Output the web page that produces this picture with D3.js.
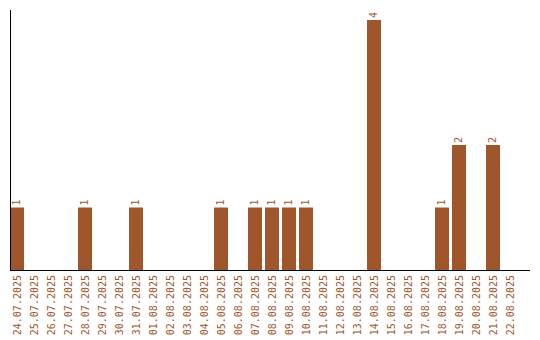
<!DOCTYPE html>
<html>
<head>
<meta charset="utf-8">
<script src="https://cdn.jsdelivr.net/npm/d3@7"></script>
<style>
  body { margin: 0; background: #fff; }
  text { font-family: "DejaVu Sans Mono", monospace; }
</style>
</head>
<body>
<div id="chart-area"></div>
<script>
    var days = ["24.07.2025","25.07.2025","26.07.2025","27.07.2025","28.07.2025","29.07.2025",
      "30.07.2025","31.07.2025","01.08.2025","02.08.2025","03.08.2025","04.08.2025",
      "05.08.2025","06.08.2025","07.08.2025","08.08.2025","09.08.2025","10.08.2025",
      "11.08.2025","12.08.2025","13.08.2025","14.08.2025","15.08.2025","16.08.2025",
      "17.08.2025","18.08.2025","19.08.2025","20.08.2025","21.08.2025","22.08.2025"];
    var counts = [1,0,0,0,1,0,0,1,0,0,0,0,1,0,1,1,1,1,0,0,0,4,0,0,0,1,2,0,2,0];

    var color = "#a0562b";
    var margin = { left:10, top:10, bottom:70 };
    var width = 540, height = 340;

    var svg = d3.select("#chart-area")
      .append("svg")
        .attr("width", width)
        .attr("height", height);

    var x = d3.scaleBand()
      .domain(days)
      .range([margin.left, margin.left + 507])
      .paddingInner(3/17)
      .paddingOuter(0);

    var y = d3.scaleLinear()
      .domain([0, 4])
      .range([height - margin.bottom, 20]);

    var data = days.map(function(d, i){ return { day: d, n: counts[i] }; });

    // bars
    svg.selectAll("rect")
      .data(data.filter(function(d){ return d.n > 0; }))
      .enter().append("rect")
        .attr("x", function(d){ return x(d.day); })
        .attr("y", function(d){ return y(d.n); })
        .attr("width", x.bandwidth())
        .attr("height", function(d){ return y(0) - y(d.n); })
        .attr("fill", color);

    // value labels
    svg.selectAll(".val")
      .data(data.filter(function(d){ return d.n > 0; }))
      .enter().append("text")
        .attr("class", "val")
        .attr("transform", function(d){
          return "translate(" + (x(d.day) + x.bandwidth()/2 + 3) + "," + (y(d.n) - 2) + ") rotate(-90)";
        })
        .attr("font-size", "10px")
        .attr("fill", color)
        .text(function(d){ return d.n; });

    // x axis
    var xAxis = svg.append("g")
      .attr("transform", "translate(0," + y(0) + ")")
      .call(d3.axisBottom(x).tickSize(0).tickPadding(0));
    xAxis.select(".domain").remove();
    xAxis.selectAll("text")
      .attr("font-size", "10px")
      .attr("font-family", "DejaVu Sans Mono, monospace")
      .attr("fill", color)
      .attr("text-anchor", "end")
      .attr("dy", "0.35em")
      .attr("transform", "translate(0,5) rotate(-90)");

    svg.append("line")
      .attr("x1", margin.left).attr("x2", 530)
      .attr("y1", y(0) + 0.5).attr("y2", y(0) + 0.5)
      .attr("stroke", "#000");

    // y axis line
    svg.append("line")
      .attr("x1", margin.left + 0.5).attr("x2", margin.left + 0.5)
      .attr("y1", margin.top).attr("y2", y(0))
      .attr("stroke", "#000");
</script>
</body>
</html>
